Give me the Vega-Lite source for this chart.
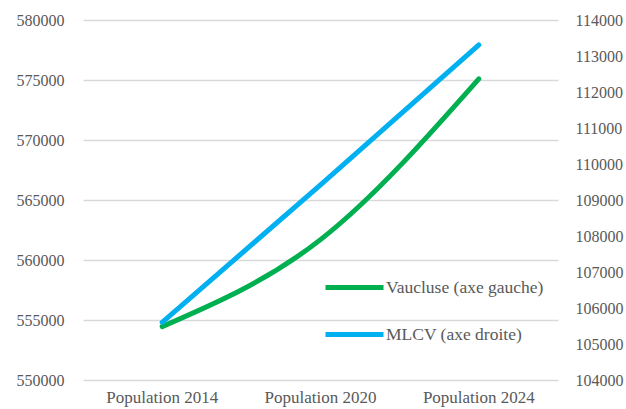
{
  "$schema": "https://vega.github.io/schema/vega-lite/v6.json",
  "width": 475,
  "height": 360,
  "autosize": {"type": "none"},
  "padding": {"left": 83, "top": 20, "right": 68, "bottom": 29},
  "background": "white",
  "config": {
    "view": {"stroke": null},
    "font": "Times New Roman, Liberation Serif, serif",
    "axis": {"labelFont": "Times New Roman, Liberation Serif, serif", "labelFontSize": 16, "labelColor": "#595959", "domain": false, "ticks": false, "titleFontSize": 0}
  },
  "data": {
    "values": [
      {"annee": "Population 2014", "serie": "Vaucluse (axe gauche)", "valeur": 554450},
      {"annee": "Population 2020", "serie": "Vaucluse (axe gauche)", "valeur": 561700},
      {"annee": "Population 2024", "serie": "Vaucluse (axe gauche)", "valeur": 575100},
      {"annee": "Population 2014", "serie": "MLCV (axe droite)", "valeur": 105600},
      {"annee": "Population 2020", "serie": "MLCV (axe droite)", "valeur": 109420},
      {"annee": "Population 2024", "serie": "MLCV (axe droite)", "valeur": 113310}
    ]
  },
  "encoding": {
    "x": {
      "field": "annee", "type": "ordinal", "title": null,
      "scale": {"type": "band", "paddingInner": 0, "paddingOuter": 0},
      "axis": {"labelAngle": 0, "labelPadding": 9, "labelFontSize": 17, "grid": false}
    },
    "color": {
      "field": "serie", "type": "nominal",
      "scale": {"domain": ["Vaucluse (axe gauche)", "MLCV (axe droite)"], "range": ["#00b050", "#00b0f0"]},
      "legend": {
        "title": null, "orient": "none", "legendX": 240, "legendY": 236,
        "symbolType": "stroke", "symbolSize": 3364, "symbolStrokeWidth": 5,
        "labelFont": "Times New Roman, Liberation Serif, serif", "labelFontSize": 17.5, "labelColor": "#595959",
        "labelOffset": 0, "rowPadding": 5, "padding": 0
      }
    }
  },
  "layer": [
    {
      "transform": [{"filter": "datum.serie === 'Vaucluse (axe gauche)'"}],
      "mark": {"type": "line", "strokeWidth": 5, "strokeCap": "round", "interpolate": "monotone"},
      "encoding": {
        "y": {
          "field": "valeur", "type": "quantitative", "title": null,
          "scale": {"domain": [550000, 580000], "nice": false, "zero": false},
          "axis": {"orient": "left", "values": [550000, 555000, 560000, 565000, 570000, 575000, 580000], "format": "d", "labelPadding": 19, "grid": true, "gridColor": "#d9d9d9", "gridWidth": 1.5}
        }
      }
    },
    {
      "transform": [{"filter": "datum.serie === 'MLCV (axe droite)'"}],
      "mark": {"type": "line", "strokeWidth": 5, "strokeCap": "round", "interpolate": "monotone"},
      "encoding": {
        "y": {
          "field": "valeur", "type": "quantitative", "title": null,
          "scale": {"domain": [104000, 114000], "nice": false, "zero": false},
          "axis": {"orient": "right", "values": [104000, 105000, 106000, 107000, 108000, 109000, 110000, 111000, 112000, 113000, 114000], "format": "d", "labelPadding": 17, "grid": false}
        }
      }
    }
  ],
  "resolve": {"scale": {"y": "independent"}}
}
